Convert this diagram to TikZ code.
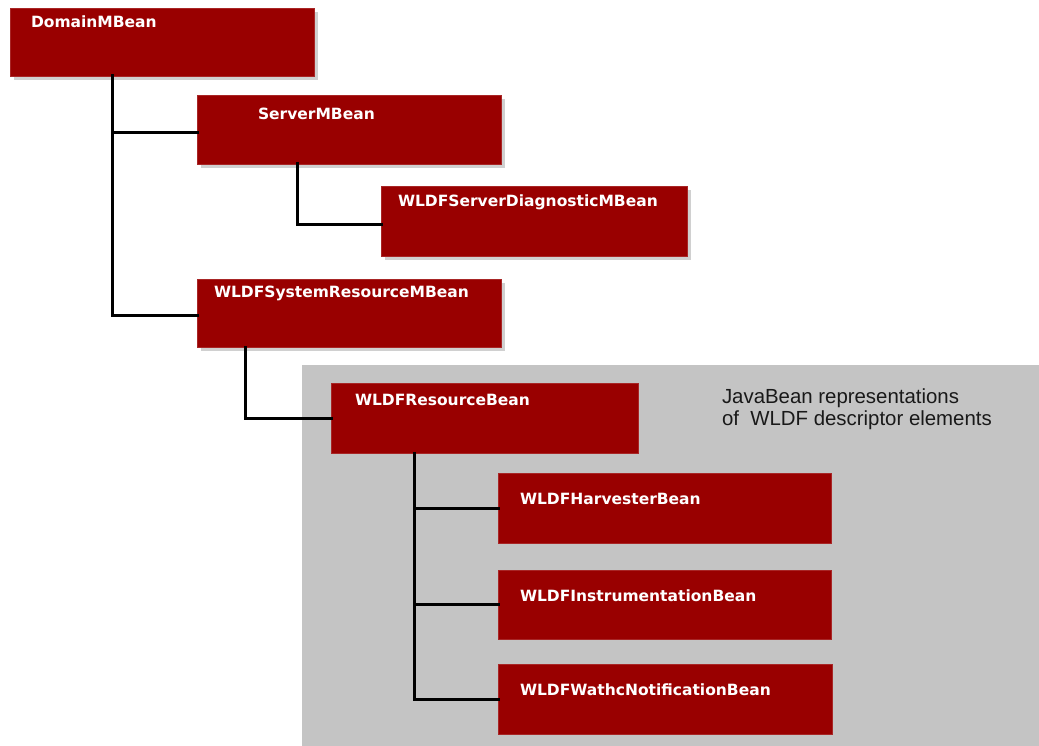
\documentclass[tikz,border=0pt]{standalone}
\usepackage{fontspec}
\setmainfont{Liberation Sans}
\newfontfamily\boxfont{DejaVu Sans}
\usetikzlibrary{shadows}
\definecolor{wred}{RGB}{153,0,0}
\definecolor{bggray}{RGB}{196,196,196}
\tikzset{
  bean/.style={fill=wred, draw=wred!85!white, line width=0.6pt, anchor=north west, inner sep=0pt, outer sep=0pt},
  shad/.style={drop shadow={shadow xshift=4pt, shadow yshift=-4pt, fill=gray!60, opacity=0.6}},
  lbl/.style={anchor=base west, inner sep=0pt, outer sep=0pt, text=white, font=\boxfont\bfseries\fontsize{15.5}{18}\selectfont},
  note/.style={anchor=base west, inner sep=0pt, outer sep=0pt, text=black!90, font=\fontsize{20.4}{22}\selectfont},
  link/.style={line width=3pt, black, line cap=rect}
}
\begin{document}
\begin{tikzpicture}[x=1pt, y=-1pt]
\useasboundingbox (0,0) rectangle (1039,746);
\fill[white] (0,0) rectangle (1039,746);
\fill[bggray] (302,365) rectangle (1039,746);

% boxes
\node[bean, shad, minimum width=304pt, minimum height=68pt] (dom) at (10,8) {};
\node[bean, shad, minimum width=304pt, minimum height=69pt] (srv) at (197,95) {};
\node[bean, shad, minimum width=306pt, minimum height=70pt] (diag) at (381,186) {};
\node[bean, shad, minimum width=304pt, minimum height=68pt] (sys) at (197,279) {};
\node[bean, minimum width=307pt, minimum height=70pt] (res) at (331,383) {};
\node[bean, minimum width=333pt, minimum height=70pt] (harv) at (498,473) {};
\node[bean, minimum width=333pt, minimum height=69pt] (inst) at (498,570) {};
\node[bean, minimum width=334pt, minimum height=70pt] (watch) at (498,664) {};

% labels
\node[lbl] (domt) at (31,28) {DomainMBean};
\node[lbl] (srvt) at (258,120) {ServerMBean};
\node[lbl] (diagt) at (398,207) {WLDFServerDiagnosticMBean};
\node[lbl] (syst) at (214,298) {WLDFSystemResourceMBean};
\node[lbl] (rest) at (355,405) {WLDFResourceBean};
\node[lbl] (harvt) at (520,504) {WLDFHarvesterBean};
\node[lbl] (instt) at (520,601) {WLDFInstrumentationBean};
\node[lbl] (watcht) at (520,695) {WLDFWathcNotificationBean};

\node[note] (note1) at (722,403) {JavaBean representations};
\node[note] (note2) at (722,425) {of\ \ WLDF descriptor elements};

% connectors
\draw[link] ([xshift=102pt]dom.south west) |- ([yshift=-3.5pt]srv.west);
\draw[link] ([xshift=102pt]dom.south west) |- ([yshift=-2pt]sys.west);
\draw[link] ([xshift=100pt]srv.south west) |- ([yshift=-4pt]diag.west);
\draw[link] ([xshift=48pt]sys.south west) |- (res.west);
\draw[link] ([xshift=83pt]res.south west) |- (harv.west);
\draw[link] ([xshift=83pt]res.south west) |- (inst.west);
\draw[link] ([xshift=83pt]res.south west) |- (watch.west);
\end{tikzpicture}
\end{document}
